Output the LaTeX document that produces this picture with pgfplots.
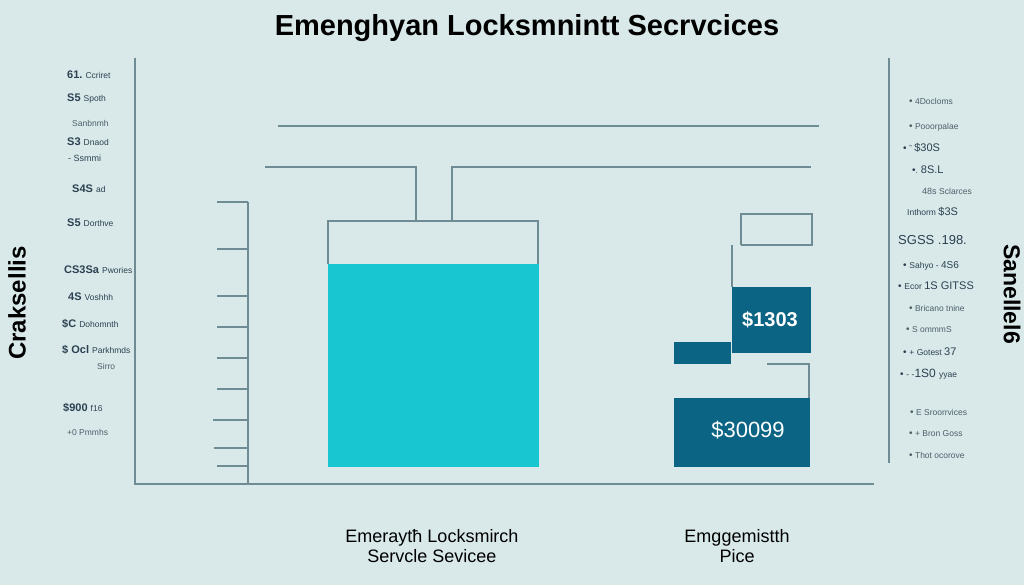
\documentclass[border=0pt]{standalone}
\usepackage{pgfplots}
\pgfplotsset{compat=1.18}
\usepackage{fontspec}
\setmainfont{Liberation Sans}
\definecolor{bg}{HTML}{D9E9EA}
\definecolor{ln}{HTML}{6F8B93}
\definecolor{tealbar}{HTML}{17C6D0}
\definecolor{darkbar}{HTML}{0C6484}
\definecolor{txt}{HTML}{2B4150}
\definecolor{txtl}{HTML}{4C5F69}
\newcommand{\fs}[1]{\fontsize{#1}{#1}\selectfont}
\newcommand{\bu}{{\fs{10}•}}
\begin{document}
\begin{tikzpicture}
\begin{axis}[
  scale only axis, width=1024pt, height=585pt,
  xmin=0, xmax=1024, ymin=0, ymax=585, y dir=reverse,
  axis lines=none, clip=false,
]
% background
\addplot[fill=bg, draw=none] coordinates {(0,0)(1024,0)(1024,585)(0,585)} --cycle;
% axes frame lines
\addplot[ln, line width=1.3pt] coordinates {(135,58)(135,484)(874,484)};
\addplot[ln, line width=1.3pt] coordinates {(889,58)(889,463)};
% inner ruler
\addplot[ln, line width=1.1pt] coordinates {(248,202)(248,484)};
\foreach \yy/\xx in {202/217,249/217,296/217,327/217,358/217,389/217,420/213,448/214,466/217}{
  \edef\tmp{\noexpand\addplot[ln, line width=1.1pt] coordinates {(\xx,\yy)(248,\yy)};}\tmp
}
% guide lines
\addplot[ln, line width=1.2pt] coordinates {(278,126)(819,126)};
\addplot[ln, line width=1.2pt] coordinates {(265,167)(416,167)(416,221)};
\addplot[ln, line width=1.2pt] coordinates {(811,167)(452,167)(452,221)};
% bar 1: outline and teal fill
\addplot[ln, line width=1.1pt] coordinates {(328,264)(328,221)(538,221)(538,264)};
\addplot[fill=tealbar, draw=none] coordinates {(328,264)(539,264)(539,467)(328,467)} --cycle;
% bar 2: stacked segments
\addplot[ln, line width=1.1pt] coordinates {(741,245)(741,214)(812,214)(812,245)(741,245)};
\addplot[ln, line width=1.1pt] coordinates {(732,287)(732,245)};
\addplot[fill=darkbar, draw=none] coordinates {(732,287)(811,287)(811,353)(732,353)} --cycle;
\addplot[fill=darkbar, draw=none] coordinates {(674,342)(731,342)(731,364)(674,364)} --cycle;
\addplot[ln, line width=1.1pt] coordinates {(767,364)(809,364)(809,398)};
\addplot[fill=darkbar, draw=none] coordinates {(674,398)(810,398)(810,467)(674,467)} --cycle;
% bar labels
\node[white, font=\bfseries\fs{20}] at (axis cs:770,320) {\$1303};
\node[white, font=\fs{22}] at (axis cs:748,430) {\$30099};
% title
\node[font=\bfseries\fs{29}] at (axis cs:527,28) {Emenghyan Locksmnintt Secrvcices};
% bottom labels
\node[align=center, font=\fontsize{18}{20}\selectfont, text=black, inner sep=0pt] at (axis cs:432,546) {Emeraytħ Locksmirch\\Servcle Sevicee};
\node[align=center, font=\fontsize{18}{20}\selectfont, text=black, inner sep=0pt] at (axis cs:737,546) {Emggemistth\\Pice};
% rotated side titles
\node[rotate=90, font=\bfseries\fs{24}] at (axis cs:17,303) {Craksellis};
\node[rotate=-90, font=\bfseries\fs{23}] at (axis cs:1012,294) {Sanellel6};
% left labels
\foreach \yy/\xx/\b/\t in {
 75/67/61./Ccriret,
 99/67/S5/Spoth,
 142/67/S3/Dnaod,
 189/72/S4S/ad,
 223/67/S5/Dorthve,
 270/64/CS3Sa/Pwories,
 297/68/4S/Voshhh,
 324/62/\$C/Dohomnth,
 350/62/\$ Ocl/Parkhmds,
 408/63/\$900/f16}{
 \edef\tmp{\noexpand\node[anchor=west, inner sep=0pt, text=txt] at (axis cs:\xx,\yy) {\noexpand\fs{11}\noexpand\bfseries \b\noexpand\ \noexpand\fs{8.5}\noexpand\mdseries \t};}\tmp
}
\node[anchor=west, inner sep=0pt, text=txtl, font=\fs{8.5}] at (axis cs:72,123) {Sanbnmh};
\node[anchor=west, inner sep=0pt, text=txt, font=\fs{9}] at (axis cs:68,158) {- Ssmmi};
\node[anchor=west, inner sep=0pt, text=txtl, font=\fs{8.5}] at (axis cs:97,366) {Sirro};
\node[anchor=west, inner sep=0pt, text=txtl, font=\fs{8.5}] at (axis cs:67,432) {+0 Pmmhs};
% right labels
\node[anchor=west, inner sep=0pt, text=txtl, font=\fs{8.5}] at (axis cs:909,101) {\bu\ 4Docloms};
\node[anchor=west, inner sep=0pt, text=txtl, font=\fs{8.5}] at (axis cs:909,127) {\bu\ Pooorpalae};
\node[anchor=west, inner sep=0pt, text=txt] at (axis cs:903,148) {\bu\ \fs{8}˜ \fs{11}\$30S};
\node[anchor=west, inner sep=0pt, text=txt] at (axis cs:912,170) {\bu\fs{8}. \fs{11}8S.L};
\node[anchor=west, inner sep=0pt, text=txtl] at (axis cs:922,191) {\fs{9}48s \fs{8.5}Sclarces};
\node[anchor=west, inner sep=0pt, text=txt] at (axis cs:907,212) {\fs{8.5}Inthorm \fs{11}\$3S};
\node[anchor=west, inner sep=0pt, text=txt, font=\fs{13}] at (axis cs:898,240) {SGSS .198.};
\node[anchor=west, inner sep=0pt, text=txt] at (axis cs:903,266) {\bu\ \fs{8.5}Sahyo - \fs{10}4S6};
\node[anchor=west, inner sep=0pt, text=txt] at (axis cs:898,286) {\bu\ \fs{8.5}Ecor \fs{11}1S GITSS};
\node[anchor=west, inner sep=0pt, text=txtl, font=\fs{8.5}] at (axis cs:909,308) {\bu\ Bricano tnine};
\node[anchor=west, inner sep=0pt, text=txtl, font=\fs{8.5}] at (axis cs:906,330) {\bu\ S ommmS};
\node[anchor=west, inner sep=0pt, text=txt] at (axis cs:903,352) {\bu\ \fs{8.5}+ Gotest \fs{11}37};
\node[anchor=west, inner sep=0pt, text=txt] at (axis cs:900,374) {\bu\ \fs{8.5}- -\fs{12}1S0 \fs{8.5}yyae};
\node[anchor=west, inner sep=0pt, text=txtl, font=\fs{8.5}] at (axis cs:910,412) {\bu\ E Sroorrvices};
\node[anchor=west, inner sep=0pt, text=txtl, font=\fs{8.5}] at (axis cs:909,434) {\bu\ + Bron Goss};
\node[anchor=west, inner sep=0pt, text=txtl, font=\fs{8.5}] at (axis cs:909,455) {\bu\ Thot ocorove};
\end{axis}
\pgfresetboundingbox
\path (current axis.south west) rectangle (current axis.north east);
\end{tikzpicture}
\end{document}
